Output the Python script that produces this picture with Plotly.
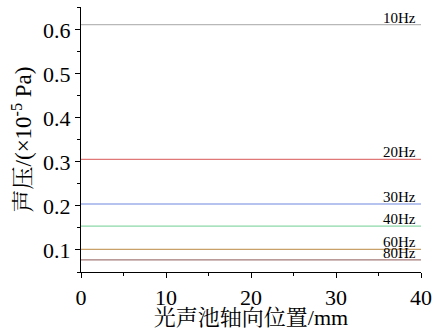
import plotly.graph_objects as go

labels = ["10Hz", "20Hz", "30Hz", "40Hz", "60Hz", "80Hz"]
values = [0.612, 0.306, 0.2045, 0.154, 0.1015, 0.0775]
colors = ["#b8b8b8", "#e07878", "#6f87e0", "#8cd8a8", "#c8a068", "#a47a78"]
x_pos = [0, 40]

fig = go.Figure()
for lab, v, c in zip(labels, values, colors):
    fig.add_trace(go.Scatter(x=x_pos, y=[v, v], mode="lines",
                             line=dict(color=c, width=1.2), showlegend=False, hoverinfo="skip"))
    fig.add_annotation(x=39.6, y=v, text=lab, showarrow=False, xanchor="right", yanchor="bottom",
                       yshift=-3, font=dict(family="Liberation Serif", size=15, color="black"))

cjk = "Times New Roman, Noto Serif CJK SC, Noto Sans CJK SC, serif"
fig.update_layout(
    template="none",
    width=436, height=330, margin=dict(l=81, r=15, t=7, b=58),
    paper_bgcolor="white", plot_bgcolor="white",
    font=dict(family="Times New Roman, serif", color="black"),
    xaxis=dict(range=[0, 40], tickvals=[0, 10, 20, 30, 40], showline=True, linecolor="black",
               linewidth=1.2, ticks="outside", ticklen=5, tickwidth=1, tickcolor="black",
               minor=dict(ticks="outside", ticklen=3, dtick=5, tickcolor="black"),
               showgrid=False, zeroline=False, tickfont=dict(size=22, family="Times New Roman", color="black"),
               title=dict(text="光声池轴向位置/mm", font=dict(size=22, family=cjk, color="black"), standoff=3)),
    yaxis=dict(range=[0.05, 0.652], tickvals=[0.1, 0.2, 0.3, 0.4, 0.5, 0.6], showline=True,
               linecolor="black", linewidth=1.2, ticks="outside", ticklen=5, tickwidth=1,
               tickcolor="black", minor=dict(ticks="outside", ticklen=3, dtick=0.05, tick0=0.05, tickcolor="black"),
               showgrid=False, zeroline=False, tickfont=dict(size=22, family="Times New Roman", color="black"),
               title=dict(text="声压/(×10<sup>-5</sup> Pa)", font=dict(size=23, family=cjk, color="black"), standoff=4)),
)
fig.write_html("out.html")
